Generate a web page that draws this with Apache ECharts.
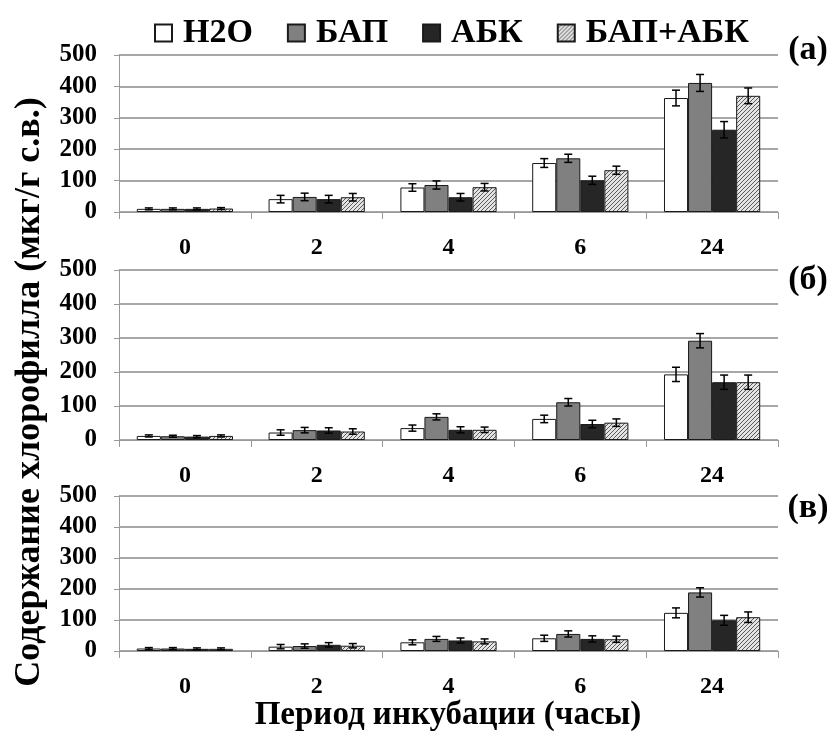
<!DOCTYPE html>
<html><head><meta charset="utf-8">
<script src="https://cdn.jsdelivr.net/npm/echarts@6/dist/echarts.min.js"></script>
<style>html,body{margin:0;padding:0;background:#fff}#c{width:840px;height:734px}</style>
</head><body><div id="c"></div>
<script>
const categories = ['0', '2', '4', '6', '24'];
const seriesNames = ['H2O', 'БАП', 'АБК', 'БАП+АБК'];
const yTicks = [0, 100, 200, 300, 400, 500];
const panelLabels = ['(a)', '(б)', '(в)'];

// Panel (a)
const h2oA = [10, 41, 78, 156, 363];
const bapA = [10, 48, 86, 171, 411];
const abkA = [10, 41, 47, 101, 262];
const bapAbkA = [11, 47, 79, 133, 370];
const h2oAErr = [3, 12, 12, 14, 25];
const bapAErr = [3, 12, 13, 13, 27];
const abkAErr = [3, 12, 12, 13, 26];
const bapAbkAErr = [3, 12, 12, 13, 25];

// Panel (б)
const h2oB = [12, 22, 35, 62, 193];
const bapB = [11, 29, 68, 111, 292];
const abkB = [10, 28, 30, 47, 170];
const bapAbkB = [12, 25, 30, 51, 170];
const h2oBErr = [3, 8, 9, 11, 21];
const bapBErr = [3, 8, 9, 11, 21];
const abkBErr = [3, 8, 9, 11, 21];
const bapAbkBErr = [3, 8, 8, 11, 21];

// Panel (в)
const h2oC = [8, 14, 28, 41, 123];
const bapC = [8, 16, 39, 55, 189];
const abkC = [7, 20, 34, 39, 99];
const bapAbkC = [7, 17, 31, 38, 109];
const h2oCErr = [3, 7, 8, 10, 16];
const bapCErr = [3, 7, 8, 10, 15];
const abkCErr = [3, 7, 8, 10, 16];
const bapAbkCErr = [3, 7, 8, 10, 17];

const panels = [
  {vals: [h2oA, bapA, abkA, bapAbkA], errs: [h2oAErr, bapAErr, abkAErr, bapAbkAErr]},
  {vals: [h2oB, bapB, abkB, bapAbkB], errs: [h2oBErr, bapBErr, abkBErr, bapAbkBErr]},
  {vals: [h2oC, bapC, abkC, bapAbkC], errs: [h2oCErr, bapCErr, abkCErr, bapAbkCErr]}
];

// hatch pattern
const pc = document.createElement('canvas');
pc.width = 4; pc.height = 4;
const g = pc.getContext('2d');
g.fillStyle = '#e4e4e4'; g.fillRect(0, 0, 4, 4);
g.strokeStyle = '#4a4a4a'; g.lineWidth = 0.9;
g.beginPath();
g.moveTo(-1, 5); g.lineTo(5, -1);
g.moveTo(-3, 3); g.lineTo(3, -3);
g.moveTo(1, 7); g.lineTo(7, 1);
g.stroke();

const fills = ['#ffffff', '#808080', '#262626', {image: pc, repeat: 'repeat'}];
const FONT = '"Liberation Serif", "Times New Roman", serif';
const GAP = 0.27;

const grids = [
  {left: 119, width: 659, top: 55, height: 157},
  {left: 119, width: 659, top: 270, height: 170},
  {left: 119, width: 659, top: 496, height: 155}
];

const xAxes = [], yAxes = [], series = [];
panels.forEach((p, pi) => {
  xAxes.push({
    type: 'category', gridIndex: pi, data: categories,
    axisLine: {lineStyle: {color: '#999', width: 1}},
    axisTick: {show: true, length: 7, lineStyle: {color: '#999'}},
    axisLabel: {color: '#000', fontFamily: FONT, fontWeight: 'bold', fontSize: 24, margin: 24}
  });
  yAxes.push({
    type: 'value', gridIndex: pi, min: yTicks[0], max: yTicks[yTicks.length - 1], interval: 100,
    axisLine: {show: true, lineStyle: {color: '#999', width: 1}},
    axisTick: {show: true, length: 5, lineStyle: {color: '#999'}},
    splitLine: {lineStyle: {color: '#8a8a8a', width: 1.5}},
    axisLabel: {color: '#000', fontFamily: FONT, fontWeight: 'bold', fontSize: 25, margin: 22}
  });
  p.vals.forEach((v, si) => {
    series.push({
      name: seriesNames[si], type: 'bar', xAxisIndex: pi, yAxisIndex: pi,
      data: v, barGap: '0%', barCategoryGap: (GAP * 100) + '%',
      itemStyle: {color: fills[si], borderColor: '#1a1a1a', borderWidth: 1},
      emphasis: {disabled: true}, animation: false
    });
  });
  const errData = [];
  p.vals.forEach((v, si) => v.forEach((val, ci) => errData.push([ci, val, p.errs[si][ci], si])));
  series.push({
    type: 'custom', xAxisIndex: pi, yAxisIndex: pi, z: 5, animation: false,
    encode: {x: 0, y: 1}, data: errData,
    renderItem: function (params, api) {
      const ci = api.value(0), val = api.value(1), e = api.value(2), si = api.value(3);
      const c = api.coord([ci, val]);
      const band = api.size([1, 0])[0];
      const bw = band * (1 - GAP) / 4;
      const x = c[0] + (si - 1.5) * bw;
      const yt = api.coord([ci, val + e])[1];
      const yb = api.coord([ci, Math.max(0, val - e)])[1];
      const cap = 4;
      const st = {stroke: '#000', lineWidth: 1.5};
      return {type: 'group', children: [
        {type: 'line', shape: {x1: x, y1: yt, x2: x, y2: yb}, style: st},
        {type: 'line', shape: {x1: x - cap, y1: yt, x2: x + cap, y2: yt}, style: st},
        {type: 'line', shape: {x1: x - cap, y1: yb, x2: x + cap, y2: yb}, style: st}
      ]};
    }
  });
});

const graphics = [
  {type: 'text', x: 30, y: 392, rotation: Math.PI / 2, style: {
    text: 'Содержание хлорофилла (мкг/г с.в.)', font: 'bold 36px ' + FONT, fill: '#000',
    align: 'center', verticalAlign: 'middle'}},
  {type: 'text', x: 448, y: 715, style: {
    text: 'Период инкубации (часы)', font: 'bold 33px ' + FONT, fill: '#000',
    align: 'center', verticalAlign: 'middle'}}
];
const labelY = [50, 280, 508];
panelLabels.forEach((t, i) => graphics.push({type: 'text', x: 808, y: labelY[i], style: {
  text: t, font: 'bold 34px ' + FONT, fill: '#000', align: 'center', verticalAlign: 'middle'}}));

const chart = echarts.init(document.getElementById('c'), null, {renderer: 'canvas'});
chart.setOption({
  animation: false,
  backgroundColor: '#fff',
  legend: {
    data: seriesNames, left: 149, top: 11, itemWidth: 17, itemHeight: 17, itemGap: 34,
    textStyle: {fontFamily: FONT, fontWeight: 'bold', fontSize: 34, color: '#000', padding: [0, 0, 0, 6]},
    icon: 'rect', selectedMode: false
  },
  grid: grids,
  xAxis: xAxes,
  yAxis: yAxes,
  series: series,
  graphic: graphics
});
</script></body></html>
